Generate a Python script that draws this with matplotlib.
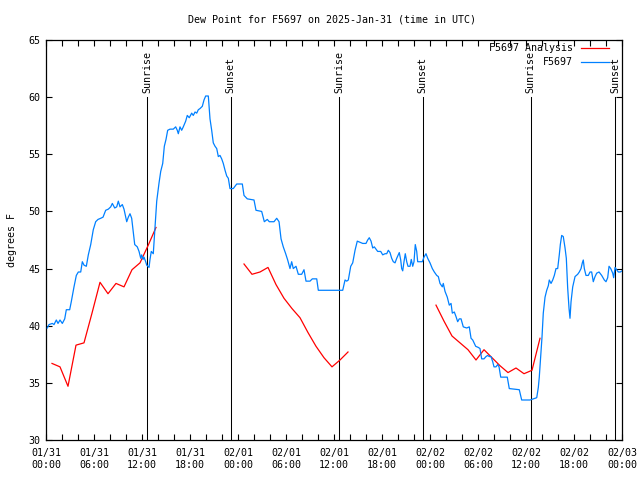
import matplotlib
matplotlib.use("Agg")
import matplotlib.pyplot as plt
from matplotlib.lines import Line2D
from matplotlib.ticker import MultipleLocator

plt.rcParams['font.family'] = ['DejaVu Sans Mono']
FS = 7.2

# Observed dew point (hours since 2025-01-31 00:00 UTC, deg F)
obs_hours = [0.16, 0.38, 0.79, 1.0, 1.29, 1.5, 1.75, 2.04, 2.34, 2.54, 2.96, 3.16, 3.5, 3.79, 4.04,
             4.34, 4.54, 4.75, 5.04, 5.29, 5.59, 5.91, 6.21, 6.5, 6.84, 7.13, 7.46, 7.79, 8.09, 8.29,
             8.59, 8.84, 9.04, 9.25, 9.54, 9.75, 9.91, 10.09, 10.29, 10.5, 10.71, 10.91, 11.09, 11.41,
             11.63, 11.84, 11.96, 12.13, 12.25, 12.46, 12.59, 12.88, 13.0, 13.16, 13.41, 13.59, 13.75,
             13.84, 14.13, 14.34, 14.59, 14.79, 15.0, 15.21, 15.5, 15.91, 16.21, 16.41, 16.54, 16.75,
             16.96, 17.16, 17.46, 17.66, 17.91, 18.21, 18.41, 18.63, 18.84, 19.04, 19.25, 19.54, 19.75,
             19.96, 20.29, 20.5, 20.71, 20.91, 21.13, 21.34, 21.54, 21.75, 21.96, 22.16, 22.38, 22.59,
             22.79, 23.0, 23.41, 23.84, 24.54, 24.75, 25.16, 26.0, 26.25, 26.96, 27.29, 27.66, 27.91,
             28.5, 28.84, 29.13, 29.38, 29.66, 29.96, 30.21, 30.5, 30.71, 30.91, 31.25, 31.54, 31.96,
             32.25, 32.5, 33.0, 33.29, 33.84, 34.04, 35.5, 36.75, 37.09, 37.38, 37.59, 37.79, 38.09,
             38.34, 38.63, 38.91, 39.25, 39.59, 40.0, 40.21, 40.41, 40.63, 40.84, 41.04, 41.25, 41.46,
             41.84, 42.09, 42.38, 42.59, 42.79, 43.0, 43.21, 43.41, 43.63, 43.84, 44.04, 44.16, 44.34,
             44.46, 44.59, 44.75, 44.91, 45.09, 45.25, 45.5, 45.66, 45.84, 46.0, 46.16, 46.34, 46.46,
             47.04, 47.25, 47.5, 47.71, 48.0, 48.29, 48.54, 48.84, 49.04, 49.25, 49.54, 49.66, 49.88,
             50.16, 50.41, 50.63, 50.79, 51.04, 51.25, 51.46, 51.66, 51.88, 52.16, 52.59, 52.91, 53.13,
             53.34, 53.71, 54.04, 54.25, 54.46, 54.75, 55.0, 55.21, 55.41, 55.63, 55.84, 56.0, 56.25,
             56.46, 56.63, 56.84, 57.66, 57.91, 59.16, 59.46, 60.5, 61.34, 61.54, 61.66, 61.84, 62.0,
             62.16, 62.38, 62.59, 62.79, 62.91, 63.13, 63.34, 63.54, 63.75, 63.96, 64.16, 64.29, 64.46,
             64.66, 64.88, 65.04, 65.21, 65.38, 65.5, 65.63, 65.84, 66.13, 66.46, 66.66, 66.88, 67.04,
             67.16, 67.29, 67.5, 67.79, 68.0, 68.21, 68.41, 68.63, 68.84, 69.13, 69.46, 69.79, 70.0,
             70.21, 70.38, 70.59, 70.84, 70.96, 71.13, 71.34, 71.54, 71.79, 72.0]
obs_dewpt = [39.8, 40.1, 40.2, 40.1, 40.5, 40.2, 40.5, 40.2, 40.6, 41.4, 41.4, 42.1, 43.4, 44.4, 44.7,
             44.7, 45.6, 45.3, 45.2, 46.2, 47.1, 48.4, 49.1, 49.3, 49.4, 49.5, 50.1, 50.2, 50.4, 50.7,
             50.3, 50.4, 50.9, 50.4, 50.6, 50.2, 49.7, 49.1, 49.5, 49.8, 49.4, 48.2, 47.1, 46.9,
             46.5, 45.9, 46.2, 45.8, 46.0, 45.6, 45.3, 45.1, 45.8, 46.5, 46.3, 48.2, 50.0,
             50.9, 52.5, 53.5, 54.2, 55.7, 56.3, 57.1, 57.2, 57.2, 57.4, 57.1, 56.8, 57.4,
             57.1, 57.4, 57.9, 58.4, 58.2, 58.6, 58.4, 58.7, 58.6, 58.9, 59.0, 59.2, 59.75,
             60.1, 60.1, 58.1, 57.1, 56.0, 55.7, 55.5, 54.8, 54.9, 54.6, 54.2, 53.6, 53.1,
             52.9, 52.0, 52.0, 52.4, 52.4, 51.4, 51.1, 51.0, 50.1, 50.0, 49.1, 49.3, 49.1,
             49.1, 49.4, 49.1, 47.6, 46.9, 46.3, 45.75, 45.0, 45.6, 45.0, 45.2, 44.5, 44.5,
             44.9, 43.9, 43.9, 44.1, 44.1, 43.1, 43.1, 43.1, 43.1, 44.0, 43.9, 44.0, 45.2,
             45.5, 46.6, 47.4, 47.3, 47.2, 47.2, 47.5, 47.7, 47.4, 46.8, 46.9, 46.7, 46.5,
             46.5, 46.2, 46.3, 46.3, 46.6, 46.4, 45.9, 45.6, 45.5, 45.9, 46.2, 46.4, 45.75,
             45.0, 44.8, 45.6, 46.3, 45.6, 45.2, 45.2, 45.8, 45.2, 45.6, 47.1, 46.5, 45.6,
             45.6, 46.0, 46.3, 45.9, 45.5, 45.0, 44.7, 44.4, 44.3, 43.7, 43.4, 43.7, 43.0,
             42.5, 41.8, 41.95, 41.1, 41.2, 40.8, 40.35, 40.6, 40.6, 39.9, 39.8, 39.9, 38.9,
             38.75, 38.2, 38.1, 38.0, 37.1, 37.1, 37.3, 37.4, 37.3, 37.3, 36.85, 36.4, 36.4,
             36.6, 36.4, 35.5, 35.5, 34.5, 34.4, 33.5, 33.5, 33.7, 34.6, 35.5, 37.3, 39.0,
             41.1, 42.5, 43.1, 43.5, 44.0, 43.7, 44.0, 44.4, 45.0, 45.0, 46.2, 47.1, 47.9,
             47.8, 46.8, 45.9, 43.3, 41.5, 40.65, 42.1, 43.4, 44.3, 44.5, 44.7, 45.0, 45.5,
             45.75, 45.0, 44.4, 44.4, 44.7, 44.7, 43.85, 44.3, 44.6, 44.7, 44.4, 44.0, 43.85,
             44.2, 45.2, 45.0, 44.6, 44.2, 45.1, 44.9, 44.7, 44.7, 44.8]

# Analysis (three separate runs)
ana1_hours = [0.75, 1.75, 2.75, 3.75, 4.75, 5.75, 6.75, 7.75, 8.75, 9.75, 10.75, 11.75, 12.75, 13.75]
ana1_dewpt = [36.7, 36.4, 34.7, 38.3, 38.5, 41.1, 43.8, 42.8, 43.7, 43.4, 44.9, 45.5, 47.0, 48.6]
ana2_hours = [24.75, 25.75, 26.75, 27.75, 28.75, 29.75, 30.75, 31.75, 32.75, 33.75, 34.75, 35.75, 36.75, 37.75]
ana2_dewpt = [45.4, 44.5, 44.7, 45.1, 43.6, 42.4, 41.5, 40.7, 39.4, 38.2, 37.2, 36.4, 37.0, 37.7]
ana3_hours = [48.75, 49.75, 50.75, 51.75, 52.75, 53.75, 54.75, 55.75, 56.75, 57.75, 58.75, 59.75, 60.75, 61.75]
ana3_dewpt = [41.8, 40.4, 39.1, 38.5, 37.9, 37.0, 37.9, 37.2, 36.5, 35.9, 36.3, 35.8, 36.1, 38.9]

# Sun events
sun_hours = [12.67, 23.07, 36.66, 47.08, 60.6, 71.12]
sun_labels = ['Sunrise', 'Sunset', 'Sunrise', 'Sunset', 'Sunrise', 'Sunset']

xtick_hours = [0, 6, 12, 18, 24, 30, 36, 42, 48, 54, 60, 66, 72]
xtick_labels = ['01/31\n00:00', '01/31\n06:00', '01/31\n12:00', '01/31\n18:00',
                '02/01\n00:00', '02/01\n06:00', '02/01\n12:00', '02/01\n18:00',
                '02/02\n00:00', '02/02\n06:00', '02/02\n12:00', '02/02\n18:00',
                '02/03\n00:00']

RED = '#ff0000'
BLUE = '#0080ff'

fig = plt.figure(figsize=(6.4, 4.8), dpi=100)
ax = fig.add_axes([46/640, 40/480, 576/640, 400/480])

for h, lab in zip(sun_hours, sun_labels):
    ax.plot([h, h], [30, 60], color='black', lw=0.75, zorder=1)
    ax.text(h, 60.4, lab, rotation=90, ha='center', va='bottom', fontsize=FS)

for hh, vv in [(ana1_hours, ana1_dewpt), (ana2_hours, ana2_dewpt), (ana3_hours, ana3_dewpt)]:
    ax.plot(hh, vv, color=RED, lw=0.9, zorder=2)
ax.plot(obs_hours, obs_dewpt, color=BLUE, lw=0.9, zorder=3)

ax.set_xlim(0, 72)
ax.set_ylim(30, 65)
ax.set_xticks(xtick_hours)
ax.set_xticklabels(xtick_labels, fontsize=FS)
ax.xaxis.set_minor_locator(MultipleLocator(2))
ax.set_yticks(range(30, 66, 5))
ax.set_yticklabels([str(v) for v in range(30, 66, 5)], fontsize=FS)
ax.tick_params(which='both', direction='in', top=True, right=True, length=4, width=0.8, pad=4)
ax.tick_params(axis='x', which='major', pad=6)
for s in ax.spines.values():
    s.set_linewidth(0.9)

ax.set_ylabel('degrees F', fontsize=FS, labelpad=8)
fig.text(332/640, 1 - 19/480, 'Dew Point for F5697 on 2025-Jan-31 (time in UTC)',
         ha='center', va='center', fontsize=FS)

# Legend (gnuplot style: right-aligned text, sample to the right)
leg = [('F5697 Analysis', RED), ('F5697', BLUE)]
for i, (lab, col) in enumerate(leg):
    yy = 0.98 - i * 0.035
    ax.text(0.915, yy, lab, transform=ax.transAxes, ha='right', va='center', fontsize=FS)
    ax.add_line(Line2D([0.929, 0.977], [yy, yy], transform=ax.transAxes, color=col, lw=0.9))

fig.savefig('out.png', dpi=100)
